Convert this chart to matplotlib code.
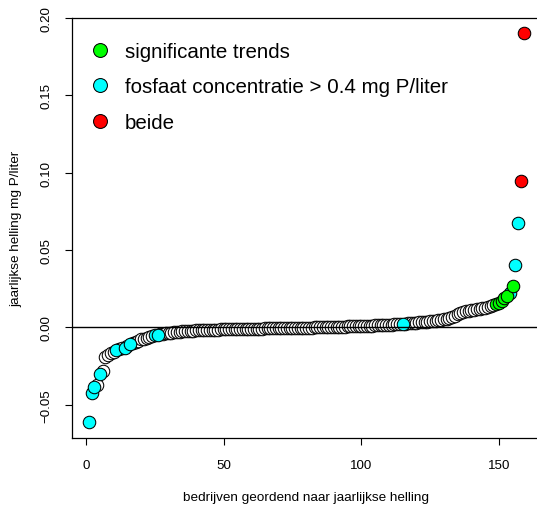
import matplotlib
matplotlib.use("Agg")
import matplotlib.pyplot as plt
from matplotlib.lines import Line2D

plt.rcParams['font.family'] = ['Liberation Sans', 'DejaVu Sans']

# jaarlijkse helling per bedrijf (gesorteerd), index 1..159
helling = [
    -0.0613, -0.0425, -0.0385, -0.0372, -0.0300, -0.0280, -0.0188, -0.0178, -0.0168, -0.0158,
    -0.0148, -0.0142, -0.0136, -0.0130, -0.0118, -0.0106, -0.0098, -0.0092, -0.0085, -0.0078,
    -0.0072, -0.0066, -0.0061, -0.0056, -0.0051, -0.0047, -0.0044, -0.0041, -0.0038, -0.0036,
    -0.0034, -0.0032, -0.0030, -0.0028, -0.0026, -0.0024, -0.0022, -0.0021, -0.0020, -0.0019,
    -0.0018, -0.0017, -0.0016, -0.0016, -0.0015, -0.0015, -0.0014, -0.0014, -0.0013, -0.0013,
    -0.0012, -0.0012, -0.0011, -0.0011, -0.0011, -0.0010, -0.0010, -0.0010, -0.0009, -0.0009,
    -0.0009, -0.0008, -0.0008, -0.0008, -0.0007, -0.0007, -0.0007, -0.0006, -0.0006, -0.0006,
    -0.0005, -0.0005, -0.0005, -0.0004, -0.0004, -0.0003, -0.0003, -0.0003, -0.0002, -0.0002,
    -0.0001, -0.0001, 0.0000, 0.0000, 0.0001, 0.0001, 0.0002, 0.0002, 0.0003, 0.0003,
    0.0004, 0.0004, 0.0005, 0.0005, 0.0006, 0.0006, 0.0007, 0.0008, 0.0008, 0.0009,
    0.0010, 0.0010, 0.0011, 0.0012, 0.0013, 0.0013, 0.0014, 0.0015, 0.0016, 0.0017,
    0.0018, 0.0019, 0.0020, 0.0022, 0.0024, 0.0025, 0.0026, 0.0028, 0.0029, 0.0031,
    0.0033, 0.0034, 0.0036, 0.0038, 0.0040, 0.0042, 0.0044, 0.0047, 0.0050, 0.0053,
    0.0057, 0.0062, 0.0068, 0.0076, 0.0086, 0.0094, 0.0100, 0.0104, 0.0108, 0.0111,
    0.0114, 0.0117, 0.0120, 0.0123, 0.0127, 0.0131, 0.0136, 0.0142, 0.0150, 0.0160,
    0.0172, 0.0188, 0.0205, 0.0224, 0.0265, 0.0403, 0.0673, 0.0945, 0.1900,
]

# indices (1-based) per categorie
fosfaat_idx = [1, 2, 3, 5, 11, 14, 16, 25, 26, 115, 154, 156, 157]
trend_idx = [149, 150, 151, 152, 153, 155]
beide_idx = [158, 159]

legend_labels = ["significante trends", "fosfaat concentratie > 0.4 mg P/liter", "beide"]
x_ticks = [0, 50, 100, 150]
y_ticks = [-0.05, 0.00, 0.05, 0.10, 0.15, 0.20]
y_ticklabels = ["\u22120.05", "0.00", "0.05", "0.10", "0.15", "0.20"]
x_label = "bedrijven geordend naar jaarlijkse helling"
y_label = "jaarlijkse helling mg P/liter"

C_TREND = "#00FF00"
C_FOSF = "#00FFFF"
C_BEIDE = "#FF0000"

W, H = 537, 506
fig = plt.figure(figsize=(W / 100, H / 100), dpi=100)
ax = fig.add_axes([71.5 / W, 67 / H, 469.5 / W, 420.5 / H])

n = len(helling)
xs = list(range(1, n + 1))
special = set(fosfaat_idx) | set(trend_idx) | set(beide_idx)
wx = [i for i in xs if i not in special]
wy = [helling[i - 1] for i in wx]

ms = 9.0
mew = 0.75
ax.plot(wx, wy, 'o', ms=ms, mfc='white', mec='black', mew=mew, ls='none', zorder=2, clip_on=False)
for idx, col in ((fosfaat_idx, C_FOSF), (trend_idx, C_TREND), (beide_idx, C_BEIDE)):
    ax.plot(idx, [helling[i - 1] for i in idx], 'o', ms=ms, mfc=col, mec='black', mew=mew,
            ls='none', zorder=3, clip_on=False)

ax.axhline(0, color='black', lw=1.0, zorder=4)

ax.set_xlim(1 - 0.04 * (n - 1), n + 0.04 * (n - 1))
ax.set_ylim(-0.0714, 0.2001)

ax.set_xticks(x_ticks)
ax.set_xticklabels([str(t) for t in x_ticks])
ax.set_yticks(y_ticks)
ax.set_yticklabels(y_ticklabels, rotation=90, va='center')

ax.tick_params(axis='both', direction='out', length=5.2, width=0.8, labelsize=9.6, colors='black')
ax.tick_params(axis='x', pad=10)
ax.tick_params(axis='y', pad=8.5)

for s in ax.spines.values():
    s.set_linewidth(0.9)

ax.set_xlabel(x_label, fontsize=9.7, labelpad=14)
ax.set_ylabel(y_label, fontsize=9.7, labelpad=13)

handles = [Line2D([], [], marker='o', ls='none', ms=10, mfc=c, mec='black', mew=mew)
           for c in (C_TREND, C_FOSF, C_BEIDE)]
ax.legend(handles, legend_labels, loc='upper left', bbox_to_anchor=(89.7 / W, 1 - 43 / H),
          bbox_transform=fig.transFigure, frameon=False, fontsize=14.8, borderpad=0,
          borderaxespad=0, handlelength=1.0, handletextpad=0.71, labelspacing=0.8)

fig.savefig("out.png", dpi=100)
